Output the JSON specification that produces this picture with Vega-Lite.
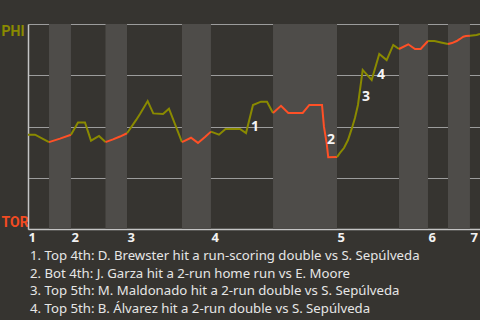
{
  "$schema": "https://vega.github.io/schema/vega-lite/v6.json",
  "width": 452,
  "height": 205,
  "autosize": "none",
  "padding": {"left": 28, "top": 24, "right": 0, "bottom": 91},
  "background": "#363430",
  "config": {"view": {"stroke": null}, "font": "Noto Sans"},
  "title": {
    "text": [
      "1. Top 4th: D. Brewster hit a run-scoring double vs S. Sepúlveda",
      "2. Bot 4th: J. Garza hit a 2-run home run vs E. Moore",
      "3. Top 5th: M. Maldonado hit a 2-run double vs S. Sepúlveda",
      "4. Top 5th: B. Álvarez hit a 2-run double vs S. Sepúlveda"
    ],
    "orient": "bottom",
    "anchor": "start",
    "frame": "group",
    "align": "left",
    "dx": 2,
    "offset": 6,
    "fontSize": 13.2,
    "fontWeight": "normal",
    "font": "Noto Sans",
    "color": "#e6e6e6",
    "lineHeight": 17.7
  },
  "datasets": {
    "bands": [
      {"start": 2.93, "end": 5.99},
      {"start": 10.80, "end": 13.80},
      {"start": 21.46, "end": 25.50},
      {"start": 34.15, "end": 43.07},
      {"start": 51.71, "end": 55.75},
      {"start": 58.54, "end": 61.60}
    ],
    "wp": [
      {"x": 0, "p": 0.460, "seg": 1, "half": "top"},
      {"x": 0.98, "p": 0.460, "seg": 1, "half": "top"},
      {"x": 2.93, "p": 0.424, "seg": 1, "half": "top"},
      {"x": 2.93, "p": 0.424, "seg": 2, "half": "bottom"},
      {"x": 4.46, "p": 0.441, "seg": 2, "half": "bottom"},
      {"x": 5.99, "p": 0.460, "seg": 2, "half": "bottom"},
      {"x": 5.99, "p": 0.460, "seg": 3, "half": "top"},
      {"x": 6.97, "p": 0.520, "seg": 3, "half": "top"},
      {"x": 7.94, "p": 0.520, "seg": 3, "half": "top"},
      {"x": 8.78, "p": 0.431, "seg": 3, "half": "top"},
      {"x": 9.90, "p": 0.454, "seg": 3, "half": "top"},
      {"x": 10.80, "p": 0.424, "seg": 3, "half": "top"},
      {"x": 10.80, "p": 0.424, "seg": 4, "half": "bottom"},
      {"x": 11.85, "p": 0.437, "seg": 4, "half": "bottom"},
      {"x": 12.82, "p": 0.451, "seg": 4, "half": "bottom"},
      {"x": 13.80, "p": 0.467, "seg": 4, "half": "bottom"},
      {"x": 13.80, "p": 0.467, "seg": 5, "half": "top"},
      {"x": 15.08, "p": 0.532, "seg": 5, "half": "top"},
      {"x": 15.61, "p": 0.561, "seg": 5, "half": "top"},
      {"x": 16.68, "p": 0.624, "seg": 5, "half": "top"},
      {"x": 17.46, "p": 0.564, "seg": 5, "half": "top"},
      {"x": 18.82, "p": 0.561, "seg": 5, "half": "top"},
      {"x": 19.65, "p": 0.587, "seg": 5, "half": "top"},
      {"x": 21.46, "p": 0.424, "seg": 5, "half": "top"},
      {"x": 21.46, "p": 0.424, "seg": 6, "half": "bottom"},
      {"x": 22.72, "p": 0.445, "seg": 6, "half": "bottom"},
      {"x": 23.69, "p": 0.420, "seg": 6, "half": "bottom"},
      {"x": 24.67, "p": 0.449, "seg": 6, "half": "bottom"},
      {"x": 25.50, "p": 0.475, "seg": 6, "half": "bottom"},
      {"x": 25.50, "p": 0.475, "seg": 7, "half": "top"},
      {"x": 26.62, "p": 0.460, "seg": 7, "half": "top"},
      {"x": 27.53, "p": 0.488, "seg": 7, "half": "top"},
      {"x": 29.55, "p": 0.488, "seg": 7, "half": "top"},
      {"x": 30.39, "p": 0.468, "seg": 7, "half": "top"},
      {"x": 31.36, "p": 0.605, "seg": 7, "half": "top"},
      {"x": 32.47, "p": 0.621, "seg": 7, "half": "top"},
      {"x": 33.31, "p": 0.621, "seg": 7, "half": "top"},
      {"x": 34.15, "p": 0.566, "seg": 7, "half": "top"},
      {"x": 34.15, "p": 0.566, "seg": 8, "half": "bottom"},
      {"x": 35.26, "p": 0.601, "seg": 8, "half": "bottom"},
      {"x": 36.28, "p": 0.566, "seg": 8, "half": "bottom"},
      {"x": 38.29, "p": 0.566, "seg": 8, "half": "bottom"},
      {"x": 39.21, "p": 0.605, "seg": 8, "half": "bottom"},
      {"x": 40.98, "p": 0.605, "seg": 8, "half": "bottom"},
      {"x": 41.25, "p": 0.499, "seg": 8, "half": "bottom"},
      {"x": 41.63, "p": 0.418, "seg": 8, "half": "bottom"},
      {"x": 41.85, "p": 0.350, "seg": 8, "half": "bottom"},
      {"x": 43.07, "p": 0.351, "seg": 8, "half": "bottom"},
      {"x": 43.07, "p": 0.351, "seg": 9, "half": "top"},
      {"x": 43.48, "p": 0.371, "seg": 9, "half": "top"},
      {"x": 44.04, "p": 0.395, "seg": 9, "half": "top"},
      {"x": 44.60, "p": 0.434, "seg": 9, "half": "top"},
      {"x": 45.16, "p": 0.493, "seg": 9, "half": "top"},
      {"x": 45.57, "p": 0.541, "seg": 9, "half": "top"},
      {"x": 45.99, "p": 0.605, "seg": 9, "half": "top"},
      {"x": 46.27, "p": 0.678, "seg": 9, "half": "top"},
      {"x": 46.65, "p": 0.776, "seg": 9, "half": "top"},
      {"x": 47.90, "p": 0.727, "seg": 9, "half": "top"},
      {"x": 48.96, "p": 0.854, "seg": 9, "half": "top"},
      {"x": 49.99, "p": 0.824, "seg": 9, "half": "top"},
      {"x": 50.91, "p": 0.898, "seg": 9, "half": "top"},
      {"x": 51.71, "p": 0.878, "seg": 9, "half": "top"},
      {"x": 51.71, "p": 0.878, "seg": 10, "half": "bottom"},
      {"x": 53.00, "p": 0.901, "seg": 10, "half": "bottom"},
      {"x": 53.94, "p": 0.878, "seg": 10, "half": "bottom"},
      {"x": 54.73, "p": 0.878, "seg": 10, "half": "bottom"},
      {"x": 55.75, "p": 0.917, "seg": 10, "half": "bottom"},
      {"x": 55.75, "p": 0.917, "seg": 11, "half": "top"},
      {"x": 56.66, "p": 0.917, "seg": 11, "half": "top"},
      {"x": 57.56, "p": 0.910, "seg": 11, "half": "top"},
      {"x": 58.54, "p": 0.902, "seg": 11, "half": "top"},
      {"x": 58.54, "p": 0.902, "seg": 12, "half": "bottom"},
      {"x": 59.09, "p": 0.907, "seg": 12, "half": "bottom"},
      {"x": 59.75, "p": 0.917, "seg": 12, "half": "bottom"},
      {"x": 60.21, "p": 0.927, "seg": 12, "half": "bottom"},
      {"x": 60.67, "p": 0.938, "seg": 12, "half": "bottom"},
      {"x": 61.04, "p": 0.941, "seg": 12, "half": "bottom"},
      {"x": 61.60, "p": 0.943, "seg": 12, "half": "bottom"},
      {"x": 61.60, "p": 0.943, "seg": 13, "half": "top"},
      {"x": 62.52, "p": 0.946, "seg": 13, "half": "top"},
      {"x": 63, "p": 0.951, "seg": 13, "half": "top"}
    ],
    "notes": [
      {"x": 31.64, "p": 0.498, "label": "1"},
      {"x": 42.23, "p": 0.434, "label": "2"},
      {"x": 47.11, "p": 0.644, "label": "3"},
      {"x": 49.20, "p": 0.751, "label": "4"}
    ]
  },
  "layer": [
    {
      "data": {"name": "bands"},
      "mark": {"type": "rect", "color": "#4e4c49"},
      "encoding": {
        "x": {"field": "start", "type": "quantitative", "scale": {"domain": [0, 63], "nice": false, "zero": false},
          "axis": {
            "values": [0, 5.99, 13.80, 25.50, 43.07, 55.75, 61.60],
            "labelExpr": "datum.value < 1 ? '1' : datum.value < 10 ? '2' : datum.value < 20 ? '3' : datum.value < 30 ? '4' : datum.value < 50 ? '5' : datum.value < 60 ? '6' : '7'",
            "title": null,
            "grid": false,
            "ticks": false,
            "domain": true,
            "domainColor": "#c4c4c4",
            "domainWidth": 1.5,
            "labelAlign": "left",
            "labelBaseline": "top",
            "labelPadding": 2,
            "labelFontSize": 13,
            "labelFontWeight": "bold",
            "labelColor": "#f2f2f2",
            "labelFont": "Noto Sans",
            "labelFlush": false,
            "labelOverlap": false
          }
        },
        "x2": {"field": "end"}
      }
    },
    {
      "data": {"name": "wp"},
      "mark": {"type": "line", "strokeWidth": 2, "strokeJoin": "miter"},
      "encoding": {
        "x": {"field": "x", "type": "quantitative"},
        "y": {"field": "p", "type": "quantitative", "scale": {"domain": [0, 1], "nice": false},
          "axis": {
            "values": [0, 0.25, 0.5, 0.75, 1],
            "labelExpr": "datum.value == 1 ? 'PHI' : datum.value == 0 ? 'TOR' : ''",
            "title": null,
            "grid": true,
            "gridColor": "#9c9c9c",
            "gridWidth": 1,
            "ticks": false,
            "domain": true,
            "domainColor": "#c4c4c4",
            "domainWidth": 1.5,
            "labelAlign": "left",
            "labelPadding": 27,
            "labelFontSize": 14,
            "labelFontWeight": "bold",
            "labelFont": "Roboto",
            "labelColor": {"condition": {"test": "datum.value == 1", "value": "#8a8a00"}, "value": "#f24b22"},
            "labelBaseline": {"condition": {"test": "datum.value == 1", "value": "top"}, "value": "bottom"}
          }
        },
        "detail": {"field": "seg", "type": "nominal"},
        "color": {"field": "half", "type": "nominal", "scale": {"domain": ["top", "bottom"], "range": ["#8a8a00", "#ff5026"]}, "legend": null}
      }
    },
    {
      "data": {"name": "notes"},
      "mark": {"type": "text", "fontSize": 14, "fontWeight": "bold", "color": "#f5f5f5", "font": "Noto Sans"},
      "encoding": {
        "x": {"field": "x", "type": "quantitative"},
        "y": {"field": "p", "type": "quantitative"},
        "text": {"field": "label"}
      }
    }
  ]
}
